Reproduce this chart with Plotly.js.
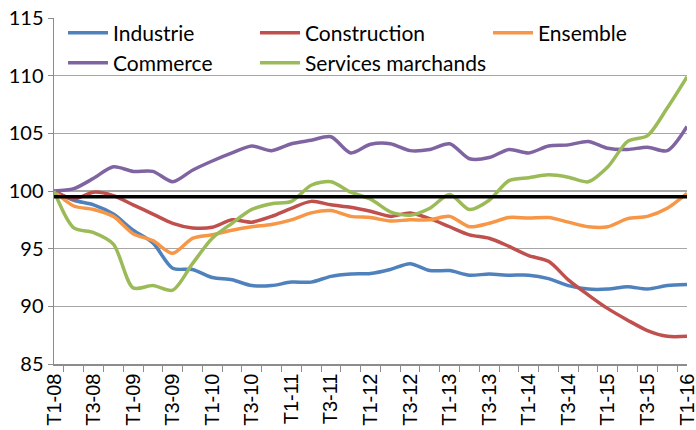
<!DOCTYPE html>
<html>
<head>
<meta charset="utf-8">
<script src="https://cdn.plot.ly/plotly-3.0.1.min.js"></script>
<style>html,body{margin:0;padding:0;background:#fff;}#chart{width:696px;height:430px;}</style>
</head>
<body>
<div id="chart"></div>
<script>
const quarters = ["T1-08","T2-08","T3-08","T4-08","T1-09","T2-09","T3-09","T4-09",
  "T1-10","T2-10","T3-10","T4-10","T1-11","T2-11","T3-11","T4-11",
  "T1-12","T2-12","T3-12","T4-12","T1-13","T2-13","T3-13","T4-13",
  "T1-14","T2-14","T3-14","T4-14","T1-15","T2-15","T3-15","T4-15","T1-16"];

const industrie = [100,99.2,98.8,98.0,96.6,95.5,93.3,93.2,92.5,92.3,91.8,91.8,92.1,92.1,92.6,92.8,
  92.85,93.2,93.7,93.1,93.1,92.7,92.8,92.7,92.7,92.4,91.8,91.5,91.5,91.7,91.5,91.8,91.9];
const construction = [100,99.3,99.9,99.6,98.8,98.0,97.2,96.8,96.85,97.5,97.3,97.8,98.5,99.1,98.8,98.6,
  98.25,97.8,98.1,97.6,96.9,96.2,95.9,95.2,94.4,93.9,92.3,91.0,89.8,88.8,87.9,87.4,87.4];
const ensemble = [100,98.7,98.4,97.8,96.3,95.7,94.6,95.9,96.2,96.6,96.9,97.1,97.5,98.1,98.3,97.8,
  97.7,97.4,97.5,97.5,97.8,96.9,97.2,97.7,97.65,97.7,97.3,96.9,96.9,97.6,97.8,98.5,99.8];
const commerce = [100,100.2,101.1,102.1,101.7,101.7,100.8,101.8,102.6,103.3,103.9,103.5,104.1,104.4,104.7,103.3,
  104.05,104.1,103.5,103.6,104.1,102.8,102.9,103.6,103.3,103.9,104.0,104.3,103.7,103.6,103.8,103.5,105.6];
const services = [100,96.8,96.4,95.4,91.6,91.8,91.4,93.7,95.9,97.2,98.4,98.9,99.1,100.5,100.8,99.9,
  99.3,98.2,97.9,98.5,99.7,98.4,99.2,100.9,101.15,101.4,101.2,100.8,102.1,104.3,104.8,107.2,109.9];
const referenceLevel = 99.5;

const names = ["Industrie","Construction","Ensemble","Commerce","Services marchands"];
const colors = ["#4F81BD","#C0504D","#F79646","#8064A2","#9BBB59"];
const series = [industrie, construction, ensemble, commerce, services];
const legendIds = ["legend","legend2","legend3","legend4","legend5"];

const traces = series.map((vals, k) => ({
  type: "scatter", mode: "lines", x: quarters, y: vals, name: names[k],
  legend: legendIds[k],
  line: {color: colors[k], width: 3.5, shape: "spline", smoothing: 0.8}
}));

// plot area geometry in px for legend placement
const L = 54, R = 687, T = 18, B = 364;
const px2x = p => (p - L) / (R - L);
const px2y = p => (B - p) / (B - T);
const legendPos = [[63,33],[255,33],[488,33],[63,63],[255,63]];
const legendFont = {family: "Lato, 'Open Sans', sans-serif", size: 21, color: "#000"};

const layout = {
  width: 696, height: 430,
  margin: {l: L, r: 696 - R, t: T, b: 430 - B, pad: 0},
  paper_bgcolor: "#fff", plot_bgcolor: "#fff",
  showlegend: true,
  xaxis: {
    type: "category", tickmode: "linear", dtick: 1, ticklabelstep: 2,
    tickson: "boundaries", ticks: "outside", ticklen: 6, tickcolor: "#8c8c8c",
    tickangle: -90, tickfont: {family: "'Liberation Sans', Arial, sans-serif", size: 20, color: "#000"},
    showgrid: false, showline: true, linecolor: "#8c8c8c", linewidth: 1.5,
    zeroline: false, automargin: false, fixedrange: true
  },
  yaxis: {
    range: [85, 115], dtick: 5, tick0: 85,
    ticks: "outside", ticklen: 5, tickcolor: "#8c8c8c",
    tickfont: {family: "Lato, 'Open Sans', sans-serif", size: 20, color: "#000"},
    showgrid: true, gridcolor: "#a6a6a6", gridwidth: 1.2,
    showline: true, linecolor: "#8c8c8c", linewidth: 1.5,
    zeroline: false, automargin: false, fixedrange: true
  },
  shapes: [{
    type: "line", xref: "paper", x0: 0, x1: 1, yref: "y", y0: referenceLevel, y1: referenceLevel,
    line: {color: "#000", width: 3.5}, layer: "above"
  }]
};
legendIds.forEach((id, k) => {
  layout[id] = {
    x: px2x(legendPos[k][0]), y: px2y(legendPos[k][1]),
    xanchor: "left", yanchor: "middle", xref: "paper", yref: "paper",
    bgcolor: "rgba(0,0,0,0)", borderwidth: 0, font: legendFont,
    itemwidth: 40, orientation: "v"
  };
});

Plotly.newPlot("chart", traces, layout, {staticPlot: true, displayModeBar: false});
</script>
</body>
</html>
